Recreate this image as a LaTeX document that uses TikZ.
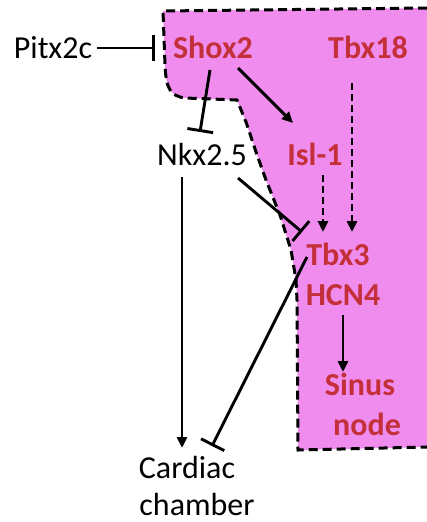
\documentclass[tikz,border=0pt]{standalone}
\usepackage{fontspec}
\setmainfont{Carlito}
\usetikzlibrary{arrows.meta,calc}
\definecolor{pinkfill}{RGB}{240,140,238}
\definecolor{redtxt}{RGB}{196,48,58}
\begin{document}
\begin{tikzpicture}[x=1pt,y=-1pt,
  lbl/.style={anchor=base,inner sep=0pt,font=\fontsize{32}{38}\selectfont},
  sano/.style={lbl,text=redtxt,font=\fontsize{32}{38}\selectfont\bfseries},
  con/.style={line width=2.9pt},
  act/.style={con,-{Triangle[width=10pt,length=11pt]}},
  dact/.style={act,dash pattern=on 7pt off 4pt},
  inh/.style={con,-{Bar[width=26pt]}},
  outline/.style={line width=3pt,dash pattern=on 9pt off 5pt}]
\useasboundingbox (0,0) rectangle (427,522);

% pink sinus-node region
\fill[pinkfill] (427,8) -- (163,11) -- (165,65) .. controls (166,88) and (170,96) .. (185,98)
  -- (237,100) -- (246,122) -- (256,152) -- (266,180) -- (280,215) -- (291,250)
  -- (296,280) -- (297,300) -- (298,450) -- (427,447) -- cycle;
\draw[outline] (427,8) -- (163,11) -- (165,65) .. controls (166,88) and (170,96) .. (185,98)
  -- (237,100) -- (246,122) -- (256,152) -- (266,180) -- (280,215) -- (291,250)
  -- (296,280) -- (297,300) -- (298,450) -- (427,447);

% nodes
\node[lbl]  (pitx)  at (53,58)  {Pitx2c};
\node[sano] (shox)  at (213,58) {Shox2};
\node[sano] (tbxe)  at (368,58) {Tbx18};
\node[lbl]  (nkx)   at (202,165) {Nkx2.5};
\node[sano] (isl)   at (315,165) {Isl-1};
\node[sano] (tbxt)  at (338,265) {Tbx3};
\node[sano] (hcn)   at (343,305) {HCN4};
\node[sano] (sinus) at (360,395) {Sinus};
\node[sano] (snode) at (367,435) {node};
\node[lbl]  (card)  at (187,478) {Cardiac};
\node[lbl]  (chamb) at (197,515) {chamber};

% connectors
\draw[inh]  ([shift={(44,-10)}]pitx.base) -- ([shift={(-58,-10)}]shox.base);
\draw[inh]  ([shift={(-3,12)}]shox.base) -- ([shift={(-2,-33)}]nkx.base);
\draw[act]  ([shift={(25,10)}]shox.base) -- ([shift={(-22,-42)}]isl.base);
\draw[dact] ([shift={(-16,25)}]tbxe.base) -- ([shift={(14,-33)}]tbxt.base);
\draw[dact] ([shift={(8,10)}]isl.base) -- ([shift={(-15,-33)}]tbxt.base);
\draw[inh]  ([shift={(36,13)}]nkx.base) -- ([shift={(-36,-33)}]tbxt.base);
\draw[act]  ([shift={(-20,12)}]nkx.base) -- ([shift={(-5,-30)}]card.base);
\draw[inh]  ([shift={(-31,-8)}]tbxt.base) -- ([shift={(25,-32)}]card.base);
\draw[act]  ([shift={(0,10)}]hcn.base) -- ([shift={(-17,-23)}]sinus.base);
\end{tikzpicture}
\end{document}
